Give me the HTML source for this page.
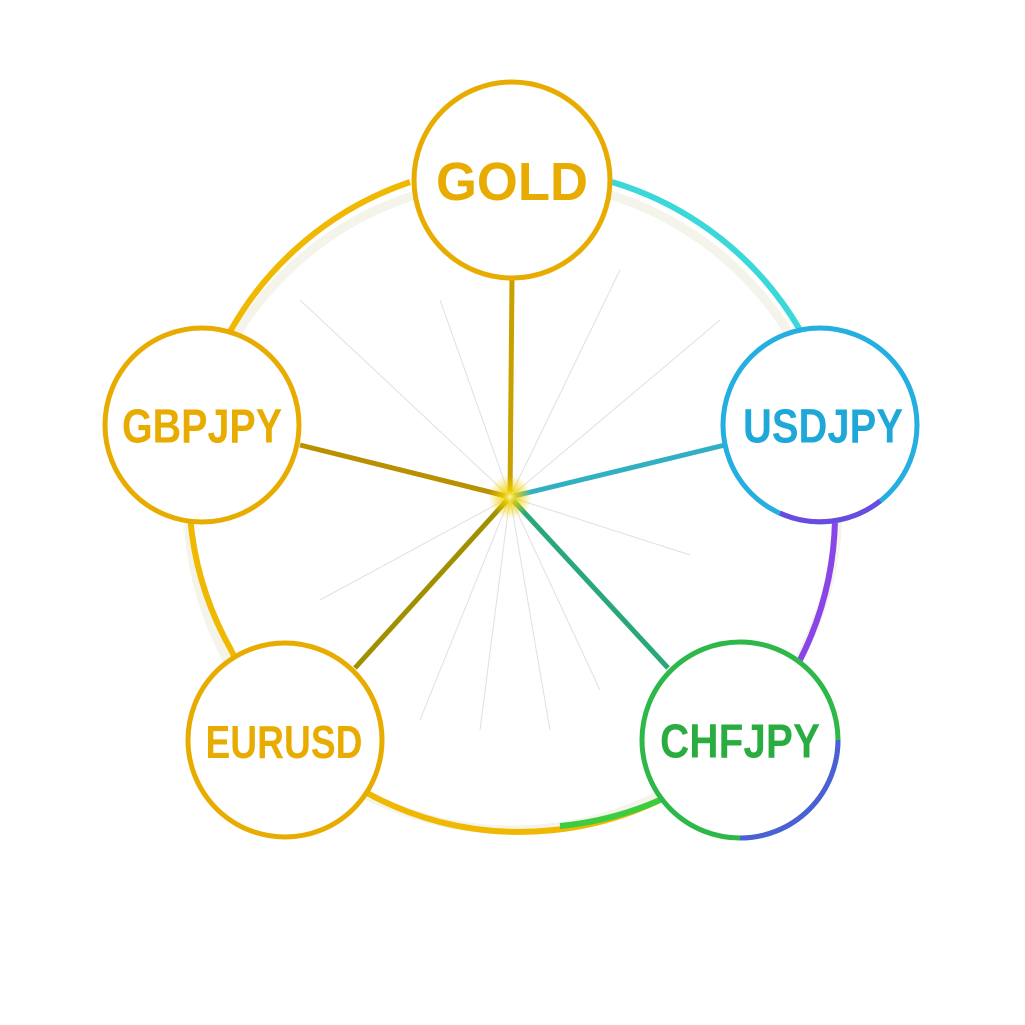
<!DOCTYPE html>
<html><head><meta charset="utf-8"><style>
html,body{margin:0;padding:0;background:#fff;}
svg{display:block}
text{font-family:"Liberation Sans",sans-serif;font-weight:bold;text-anchor:middle;dominant-baseline:central}
</style></head><body>
<svg width="1025" height="1025" viewBox="0 0 1025 1025">
<defs>
<radialGradient id="glow"><stop offset="0" stop-color="#fff7a0"/><stop offset="0.3" stop-color="#f2d200" stop-opacity="0.8"/><stop offset="1" stop-color="#f2d200" stop-opacity="0"/></radialGradient>
</defs>
<circle cx="513" cy="505" r="325" fill="none" stroke="#f4f4ea" stroke-width="9"/>
<path d="M410 182 A325 325 0 0 0 230 648 A325 325 0 0 0 440 822 A325 325 0 0 0 660 800" fill="none" stroke="#f0b800" stroke-width="6"/>
<path d="M612 182 A325 325 0 0 1 800 330" fill="none" stroke="#3ad8d8" stroke-width="6"/>
<path d="M835 520 A325 325 0 0 1 800 660" fill="none" stroke="#8a45e8" stroke-width="6"/>
<path d="M560 826 A325 325 0 0 0 660 800" fill="none" stroke="#3ccc40" stroke-width="6"/>
<g stroke="#ccc" stroke-width="1" opacity="0.6">
<line x1="510" y1="497" x2="300" y2="300"/><line x1="510" y1="497" x2="440" y2="300"/>
<line x1="510" y1="497" x2="620" y2="270"/><line x1="510" y1="497" x2="720" y2="320"/>
<line x1="510" y1="497" x2="690" y2="555"/><line x1="510" y1="497" x2="600" y2="690"/>
<line x1="510" y1="497" x2="420" y2="720"/><line x1="510" y1="497" x2="320" y2="600"/>
<line x1="510" y1="497" x2="550" y2="730"/><line x1="510" y1="497" x2="480" y2="730"/>
</g>
<line x1="510" y1="497" x2="512" y2="278" stroke="#c8a000" stroke-width="5"/>
<line x1="510" y1="497" x2="300" y2="445" stroke="#b89000" stroke-width="5"/>
<line x1="510" y1="497" x2="725" y2="445" stroke="#30b0c0" stroke-width="5"/>
<line x1="510" y1="497" x2="668" y2="668" stroke="#28a878" stroke-width="5"/>
<line x1="510" y1="497" x2="355" y2="668" stroke="#a09000" stroke-width="5"/>
<circle cx="510" cy="497" r="22" fill="url(#glow)"/>
<g stroke-width="5" fill="#fff">
<circle cx="512" cy="180" r="98" stroke="#e8ac00"/>
<circle cx="202" cy="425" r="97" stroke="#e8ac00"/>
<circle cx="820" cy="425" r="97" stroke="#25aee0"/>
<circle cx="285" cy="740" r="97" stroke="#e8ac00"/>
<circle cx="740" cy="740" r="98" stroke="#2eb84a"/>
</g>
<path d="M740 838 A98 98 0 0 0 838 740" fill="none" stroke="#4a5fd8" stroke-width="5"/>
<path d="M780 513 A97 97 0 0 0 880 501" fill="none" stroke="#6a4ae0" stroke-width="5"/>
<text x="512" y="182" font-size="54" fill="#e8ac00" textLength="152" lengthAdjust="spacingAndGlyphs">GOLD</text>
<text x="202" y="427" font-size="48" fill="#e8ac00" textLength="160" lengthAdjust="spacingAndGlyphs">GBPJPY</text>
<text x="823" y="427" font-size="48" fill="#1ea8d8" textLength="160" lengthAdjust="spacingAndGlyphs">USDJPY</text>
<text x="284" y="742" font-size="46" fill="#e8ac00" textLength="157" lengthAdjust="spacingAndGlyphs">EURUSD</text>
<text x="740" y="742" font-size="48" fill="#2aac40" textLength="160" lengthAdjust="spacingAndGlyphs">CHFJPY</text>
</svg>
</body></html>
